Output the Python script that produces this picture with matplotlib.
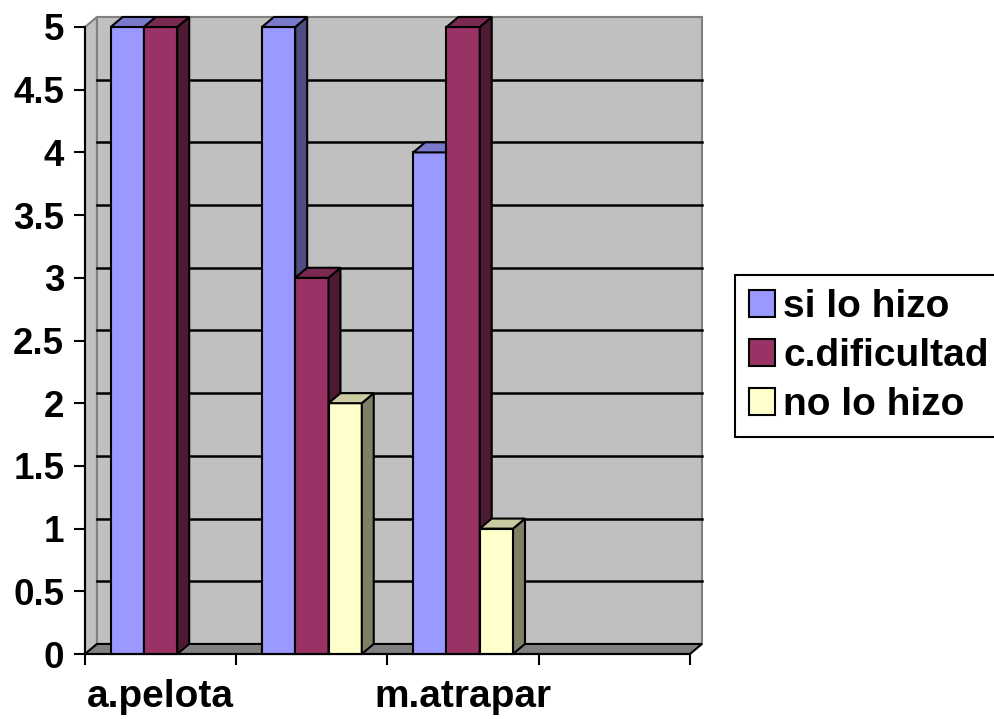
import numpy as np
import matplotlib.pyplot as plt
from matplotlib.patches import Polygon, Patch

# datos
categorias = ["a.pelota", "", "m.atrapar", ""]
series = ["si lo hizo", "c.dificultad", "no lo hizo"]
si_lo_hizo = [5, 5, 4, 0]
c_dificultad = [5, 3, 5, 0]
no_lo_hizo = [0, 2, 1, 0]
y_ticks = [0, 0.5, 1, 1.5, 2, 2.5, 3, 3.5, 4, 4.5, 5]

colores = ["#9999FF", "#993366", "#FFFFCC"]
lados = ["#4D4D80", "#4D1A33", "#808066"]
techos = ["#7A7ACC", "#7A2952", "#CCCCA3"]

plt.rcParams["font.family"] = ["Liberation Sans", "DejaVu Sans"]
plt.rcParams["font.weight"] = "bold"

fig = plt.figure(figsize=(9.95, 7.19), dpi=100)
ax = fig.add_axes([85 / 995, 65 / 719, 605 / 995, 627 / 719])
ax.patch.set_visible(False)

n = len(categorias)
ymax = y_ticks[-1]
dx, dy = 0.079, 0.08  # profundidad del efecto 3d

# paredes
ax.add_patch(Polygon([(dx, dy), (n + dx, dy), (n + dx, ymax + dy), (dx, ymax + dy)],
                     fc="#C0C0C0", ec="#808080", lw=1.5, clip_on=False, zorder=0))
ax.add_patch(Polygon([(0, 0), (dx, dy), (dx, ymax + dy), (0, ymax)],
                     fc="#C0C0C0", ec="#808080", lw=1.5, clip_on=False, zorder=0))
ax.add_patch(Polygon([(0, 0), (n, 0), (n + dx, dy), (dx, dy)],
                     fc="#808080", ec="black", lw=1.5, clip_on=False, zorder=0.5))
for v in y_ticks[1:-1]:
    ax.plot([dx, n + dx], [v + dy, v + dy], color="black", lw=1.8, zorder=1, clip_on=False)

# barras
ancho = 0.22
valores = [si_lo_hizo, c_dificultad, no_lo_hizo]
centros = np.arange(n) + 0.5
for k, vals in enumerate(valores):
    z = 3 + k
    bars = ax.bar(centros + (k - 1) * ancho, vals, width=ancho, color=colores[k],
                  edgecolor="black", lw=1.5, zorder=z, clip_on=False)
    for b, v in zip(bars, vals):
        if v == 0:
            b.set_visible(False)
            continue
        x0 = b.get_x()
        x1 = x0 + ancho
        ax.add_patch(Polygon([(x1, 0), (x1 + dx, dy), (x1 + dx, v + dy), (x1, v)],
                             fc=lados[k], ec="black", lw=1.5, zorder=z, clip_on=False))
        ax.add_patch(Polygon([(x0, v), (x0 + dx, v + dy), (x1 + dx, v + dy), (x1, v)],
                             fc=techos[k], ec="black", lw=1.5, zorder=z, clip_on=False))

ax.set_xlim(0, n)
ax.set_ylim(0, ymax)

ax.set_xticks(np.arange(n + 1))
ax.set_xticklabels([])
ax.set_xticks(centros, minor=True)
ax.set_xticklabels(categorias, minor=True, fontsize=28, fontweight="bold")
ax.tick_params(axis="x", which="major", length=8, width=1.5, direction="out")
ax.tick_params(axis="x", which="minor", length=0, pad=18)

ax.set_yticks(y_ticks)
ax.set_yticklabels([f"{v:g}" for v in y_ticks], fontsize=26.5, fontweight="bold")
ax.tick_params(axis="y", length=8, width=1.5, pad=7)

for s in ["top", "right"]:
    ax.spines[s].set_visible(False)
for s in ["left", "bottom"]:
    ax.spines[s].set_linewidth(1.5)
    ax.spines[s].set_zorder(10)

handles = [Patch(fc=colores[k], ec="black", lw=1.5) for k in range(3)]
leg = fig.legend(handles, series, loc="upper left", bbox_to_anchor=(735 / 995, 1 - 275 / 719),
                 frameon=True, fancybox=False, edgecolor="black", framealpha=1,
                 prop={"size": 28, "weight": "bold"}, handlelength=0.68, handleheight=0.68,
                 handletextpad=0.2, labelspacing=0.34, borderpad=0.36, borderaxespad=0)
leg.get_frame().set_linewidth(1.5)

fig.savefig("out.png", dpi=100)
